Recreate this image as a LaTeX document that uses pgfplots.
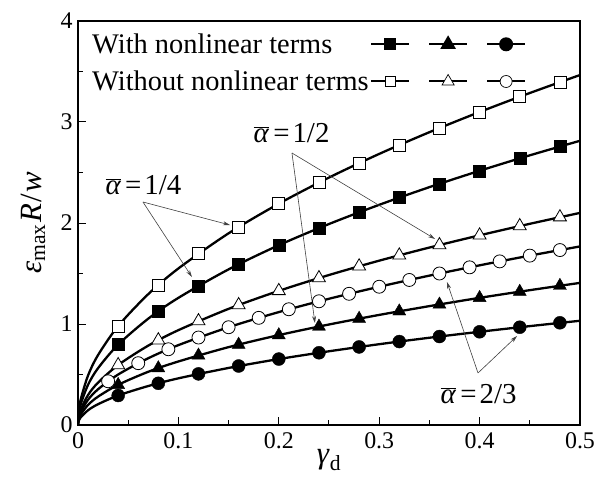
\documentclass[border=0pt]{standalone}
\usepackage{fontspec}
\setmainfont{Liberation Serif}
\usepackage{pgfplots}
\pgfplotsset{compat=1.18}
\usetikzlibrary{arrows.meta}
\newcommand{\ab}{$\overline{\mbox{\textit{α}}}$}
\begin{document}
\begin{tikzpicture}
\useasboundingbox (-78bp,-62bp) rectangle (517bp,425bp);
\begin{axis}[
 at={(0,0)}, anchor=south west,
 width=502bp, height=404bp, scale only axis,
 xmin=0, xmax=0.5, ymin=0, ymax=4,
 xtick={0,0.1,0.2,0.3,0.4,0.5}, ytick={0,1,2,3,4},
 xticklabels={0,0.1,0.2,0.3,0.4,0.5}, yticklabels={0,1,2,3,4},
 minor x tick num=1, minor y tick num=1,
 tick align=inside, xtick pos=bottom, ytick pos=left,
 major tick length=8bp, minor tick length=5bp,
 axis line style={line width=1.2bp},
 every tick/.style={black, line width=1bp},
 tick label style={font=\fontsize{24}{26}\selectfont},
 xticklabel style={yshift=-4bp},
 yticklabel style={xshift=-2bp},
 xlabel={\textit{γ}\textsubscript{d}},
 ylabel={\textit{ε}\textsubscript{max}\kern2bp\textit{R}\kern1bp/\kern1bp\textit{w}},
 label style={font=\fontsize{31}{33}\selectfont},
 xlabel style={yshift=6bp},
 ylabel style={at={(axis description cs:-0.058,0.5)}, anchor=south},
 legend image code/.code={\draw[mark repeat=2,mark phase=2,#1] plot coordinates {(0bp,0bp)(19bp,0bp)(38bp,0bp)};},
 legend cell align=left, legend plot pos=right,
 legend style={draw=none, fill=none, at={(axis description cs:0,1)}, anchor=north west,
   xshift=12.5bp, yshift=-11bp, legend columns=3,
   font=\fontsize{28.5}{30}\selectfont, inner sep=0pt, nodes={inner sep=1.5bp},
   /tikz/every even column/.append style={column sep=15bp}, row sep=13bp},
]
% alpha = 1/4, without (open squares)
\addplot[forget plot, black, line width=2.3bp, smooth, no marks] coordinates {
(0,0) (0.0005,0.110) (0.0025,0.245) (0.01,0.49) (0.02,0.693) (0.04,0.98) (0.07,1.296) (0.1,1.550) (0.15,1.898) (0.2,2.191) (0.25,2.45) (0.3,2.684) (0.35,2.899) (0.4,3.099) (0.45,3.287) (0.5,3.465)};
% alpha = 1/4, with (filled squares)
\addplot[forget plot, black, line width=2.3bp, smooth, no marks] coordinates {
(0,0) (0.0005,0.089) (0.0025,0.199) (0.01,0.398) (0.02,0.563) (0.04,0.796) (0.07,1.053) (0.1,1.259) (0.15,1.541) (0.2,1.780) (0.25,1.99) (0.3,2.180) (0.35,2.355) (0.4,2.517) (0.45,2.670) (0.5,2.814)};
% alpha = 1/2, without (open triangles)
\addplot[forget plot, black, line width=2.3bp, smooth, no marks] coordinates {
(0,0) (0.0005,0.066) (0.0025,0.1485) (0.01,0.297) (0.02,0.420) (0.04,0.594) (0.07,0.786) (0.1,0.939) (0.15,1.150) (0.2,1.328) (0.25,1.485) (0.3,1.627) (0.35,1.757) (0.4,1.878) (0.45,1.992) (0.5,2.100)};
% alpha = 1/2, with (filled triangles)
\addplot[forget plot, black, line width=2.3bp, smooth, no marks] coordinates {
(0,0) (0.0005,0.044) (0.0025,0.0995) (0.01,0.199) (0.02,0.281) (0.04,0.398) (0.07,0.527) (0.1,0.629) (0.15,0.771) (0.2,0.890) (0.25,0.995) (0.3,1.090) (0.35,1.177) (0.4,1.259) (0.45,1.335) (0.5,1.407)};
% alpha = 2/3, without (open circles)
\addplot[forget plot, black, line width=2.3bp, smooth, no marks] coordinates {
(0,0) (0.0005,0.056) (0.0025,0.125) (0.01,0.25) (0.02,0.354) (0.04,0.5) (0.07,0.661) (0.1,0.791) (0.15,0.968) (0.2,1.118) (0.25,1.25) (0.3,1.369) (0.35,1.479) (0.4,1.581) (0.45,1.677) (0.5,1.768)};
% alpha = 2/3, with (filled circles)
\addplot[forget plot, black, line width=2.3bp, smooth, no marks] coordinates {
(0,0) (0.0005,0.033) (0.0025,0.073) (0.01,0.146) (0.02,0.206) (0.04,0.292) (0.07,0.386) (0.1,0.462) (0.15,0.565) (0.2,0.653) (0.25,0.73) (0.3,0.800) (0.35,0.864) (0.4,0.923) (0.45,0.979) (0.5,1.032)};
% markers
\addplot[forget plot, only marks, mark=square*, mark size=6bp, mark options={fill=white, draw=black, line width=0.8bp}] coordinates {
(0.04,0.98) (0.08,1.386) (0.12,1.697) (0.16,1.96) (0.20,2.191) (0.24,2.401) (0.28,2.593) (0.32,2.772) (0.36,2.94) (0.40,3.099) (0.44,3.250) (0.48,3.395)};
\addplot[forget plot, only marks, mark=square*, mark size=6bp, mark options={fill=black, draw=black}] coordinates {
(0.04,0.796) (0.08,1.126) (0.12,1.379) (0.16,1.592) (0.20,1.780) (0.24,1.950) (0.28,2.106) (0.32,2.251) (0.36,2.388) (0.40,2.517) (0.44,2.640) (0.48,2.757)};
\addplot[forget plot, only marks, mark=triangle*, mark size=7.5bp, mark options={fill=white, draw=black, line width=0.8bp}] coordinates {
(0.04,0.594) (0.08,0.840) (0.12,1.029) (0.16,1.188) (0.20,1.328) (0.24,1.455) (0.28,1.572) (0.32,1.680) (0.36,1.782) (0.40,1.878) (0.44,1.970) (0.48,2.058)};
\addplot[forget plot, only marks, mark=triangle*, mark size=7.5bp, mark options={fill=black, draw=black}] coordinates {
(0.04,0.398) (0.08,0.563) (0.12,0.689) (0.16,0.796) (0.20,0.890) (0.24,0.975) (0.28,1.053) (0.32,1.126) (0.36,1.194) (0.40,1.259) (0.44,1.320) (0.48,1.379)};
\addplot[forget plot, only marks, mark=*, mark size=6.5bp, mark options={fill=white, draw=black, line width=0.8bp}] coordinates {
(0.03,0.433) (0.06,0.612) (0.09,0.75) (0.12,0.866) (0.15,0.968) (0.18,1.061) (0.21,1.146) (0.24,1.225) (0.27,1.299) (0.30,1.369) (0.33,1.436) (0.36,1.5) (0.39,1.561) (0.42,1.620) (0.45,1.677) (0.48,1.732)};
\addplot[forget plot, only marks, mark=*, mark size=6.5bp, mark options={fill=black, draw=black}] coordinates {
(0.04,0.292) (0.08,0.413) (0.12,0.506) (0.16,0.584) (0.20,0.653) (0.24,0.715) (0.28,0.773) (0.32,0.826) (0.36,0.876) (0.40,0.923) (0.44,0.968) (0.48,1.012)};
% legend
\addlegendimage{black, line width=2bp, mark=square*, mark size=5bp, mark options={fill=black}}
\addlegendentry{With nonlinear terms}
\addlegendimage{black, line width=2bp, mark=triangle*, mark size=7bp, mark options={fill=black}}
\addlegendentry{}
\addlegendimage{black, line width=2bp, mark=*, mark size=6bp, mark options={fill=black}}
\addlegendentry{}
\addlegendimage{black, line width=2bp, mark=square*, mark size=5bp, mark options={fill=white, line width=0.7bp}}
\addlegendentry{Without nonlinear terms}
\addlegendimage{black, line width=2bp, mark=triangle*, mark size=7bp, mark options={fill=white, line width=0.7bp}}
\addlegendentry{}
\addlegendimage{black, line width=2bp, mark=*, mark size=6bp, mark options={fill=white, line width=0.7bp}}
\addlegendentry{}
% annotations
\node[font=\fontsize{29}{31}\selectfont, inner sep=0pt] at (axis cs:0.0652,2.376) {\ab\kern4bp=\kern3bp1/4};
\node[font=\fontsize{29}{31}\selectfont, inner sep=0pt] at (axis cs:0.2127,2.891) {\ab\kern4bp=\kern3bp1/2};
\node[font=\fontsize{29}{31}\selectfont, inner sep=0pt] at (axis cs:0.399,0.31) {\ab\kern4bp=\kern3bp2/3};
\draw[-{Stealth[length=7bp,width=4bp]}, line width=0.6bp, black!75] (axis cs:0.0647,2.208) -- (axis cs:0.1514,1.98);
\draw[-{Stealth[length=7bp,width=4bp]}, line width=0.6bp, black!75] (axis cs:0.0647,2.208) -- (axis cs:0.1135,1.465);
\draw[-{Stealth[length=7bp,width=4bp]}, line width=0.6bp, black!75] (axis cs:0.2131,2.693) -- (axis cs:0.3556,1.842);
\draw[-{Stealth[length=7bp,width=4bp]}, line width=0.6bp, black!75] (axis cs:0.2131,2.693) -- (axis cs:0.236,1.01);
\draw[-{Stealth[length=7bp,width=4bp]}, line width=0.6bp, black!75] (axis cs:0.3984,0.515) -- (axis cs:0.4373,0.881);
\draw[-{Stealth[length=7bp,width=4bp]}, line width=0.6bp, black!75] (axis cs:0.3984,0.515) -- (axis cs:0.3675,1.416);
\end{axis}
\end{tikzpicture}
\end{document}
